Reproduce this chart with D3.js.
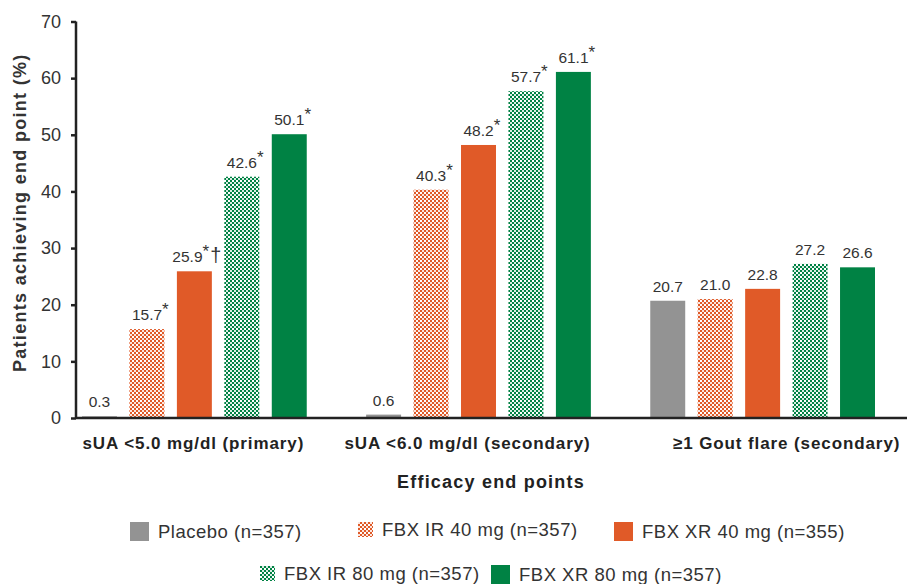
<!DOCTYPE html>
<html>
<head>
<meta charset="utf-8">
<script src="https://cdn.jsdelivr.net/npm/d3@7"></script>
<style>
  body { margin: 0; background: #fff; }
  svg { display: block; font-family: "Liberation Sans", Arial, Helvetica, sans-serif; }
</style>
</head>
<body>
<div id="chart"></div>
<script>
// data
const groups = ['sUA <5.0 mg/dl (primary)', 'sUA <6.0 mg/dl (secondary)', '\u22651 Gout flare (secondary)'];
const series = ['Placebo (n=357)', 'FBX IR 40 mg (n=357)', 'FBX XR 40 mg (n=355)', 'FBX IR 80 mg (n=357)', 'FBX XR 80 mg (n=357)'];
const placebo = [0.3, 0.6, 20.7];
const irLow = [15.7, 40.3, 21.0];
const xrLow = [25.9, 48.2, 22.8];
const irHigh = [42.6, 57.7, 27.2];
const xrHigh = [50.1, 61.1, 26.6];
const marks = [['', '', ''], ['*', '*', ''], ['*\u2020', '*', ''], ['*', '*', ''], ['*', '*', '']];
const yTicks = [0, 10, 20, 30, 40, 50, 60, 70];

const W = 907, H = 584;
const values = [placebo, irLow, xrLow, irHigh, xrHigh];
const fills = ['#939393', 'url(#patOrange)', '#e05a28', 'url(#patGreen)', '#008244'];

const svg = d3.select('#chart').append('svg')
    .attr('width', W).attr('height', H);

// checker patterns for the IR doses
const defs = svg.append('defs');
[['patOrange', '#e05a28'], ['patGreen', '#008244']].forEach(([id, c]) => {
    const p = defs.append('pattern').attr('id', id)
        .attr('patternUnits', 'userSpaceOnUse').attr('width', 4).attr('height', 4);
    p.append('rect').attr('width', 4).attr('height', 4).attr('fill', c);
    p.append('rect').attr('x', 0).attr('y', 0).attr('width', 2).attr('height', 2).attr('fill', '#fff');
    p.append('rect').attr('x', 2).attr('y', 2).attr('width', 2).attr('height', 2).attr('fill', '#fff').attr('opacity', 0.85);
});

const y = d3.scaleLinear().domain([0, 70]).range([418, 21.5]);
const x0 = d3.scaleBand().domain(d3.range(groups.length)).range([82, 875]).paddingInner(0.209);
const x1 = d3.scaleBand().domain(d3.range(series.length)).range([0, x0.bandwidth()]).paddingInner(0.263);

// y axis
const yAxis = svg.append('g').attr('transform', 'translate(76,0)')
    .call(d3.axisLeft(y).tickValues(yTicks).tickSize(5).tickPadding(10));
yAxis.select('.domain').attr('stroke', '#222').attr('stroke-width', 2.5).attr('d', `M0,${y(70)}V${y(0)}`);
yAxis.selectAll('.tick line').attr('stroke', '#222').attr('stroke-width', 2.5);
yAxis.selectAll('.tick text').attr('fill', '#333').attr('font-size', '18px').attr('font-family', 'Liberation Sans, Arial, sans-serif');

svg.append('text')
    .attr('transform', `translate(26,${(y(0) + y(70)) / 2 - 7}) rotate(-90)`)
    .attr('text-anchor', 'middle')
    .attr('fill', '#333').attr('font-size', '18px').attr('font-weight', 'bold')
    .attr('letter-spacing', '1.3px')
    .text('Patients achieving end point (%)');

// bars
series.forEach((s, si) => {
    groups.forEach((g, gi) => {
        const v = values[si][gi];
        svg.append('rect')
            .attr('x', x0(gi) + x1(si)).attr('y', y(v))
            .attr('width', x1.bandwidth()).attr('height', y(0) - y(v))
            .attr('fill', fills[si]);
    });
});

// value labels (on top of bars)
series.forEach((s, si) => {
    groups.forEach((g, gi) => {
        const v = values[si][gi];
        const cx = x0(gi) + x1(si) + x1.bandwidth() / 2;
        const t = svg.append('text')
            .attr('x', cx).attr('y', y(v) - 9)
            .attr('text-anchor', 'middle')
            .attr('fill', '#333').attr('font-size', '15.5px');
        t.append('tspan').text(v.toFixed(1));
        const m = marks[si][gi];
        if (m) {
            t.attr('text-anchor', 'start').attr('x', cx - (m.length > 1 ? 22 : 15));
            t.append('tspan').attr('dy', -5).attr('font-size', '17px').text('*');
            if (m.length > 1) t.append('tspan').attr('dy', 5).attr('dx', 1).attr('font-size', '20px').text('\u2020');
        }
    });
});

// x baseline
svg.append('line')
    .attr('x1', 76).attr('x2', W).attr('y1', y(0)).attr('y2', y(0))
    .attr('stroke', '#222').attr('stroke-width', 2.5);

// category labels
const labelShift = [-1, -11, 24];
groups.forEach((g, gi) => {
    svg.append('text')
        .attr('x', x0(gi) + x0.bandwidth() / 2 + labelShift[gi]).attr('y', 449)
        .attr('text-anchor', 'middle')
        .attr('fill', '#222').attr('font-size', '17px').attr('font-weight', 'bold')
        .attr('letter-spacing', '0.9px')
        .text(g);
});

svg.append('text')
    .attr('x', 491).attr('y', 488)
    .attr('text-anchor', 'middle')
    .attr('fill', '#222').attr('font-size', '18px').attr('font-weight', 'bold')
    .attr('letter-spacing', '1.2px')
    .text('Efficacy end points');

// legend
const legendPos = [
    { x: 130, y: 522, s: 19 },
    { x: 358, y: 522, s: 15 },
    { x: 614, y: 522, s: 19 },
    { x: 260, y: 566, s: 15 },
    { x: 491, y: 565, s: 19 }
];
series.forEach((s, si) => {
    const p = legendPos[si];
    svg.append('rect').attr('x', p.x).attr('y', p.y).attr('width', p.s).attr('height', p.s).attr('fill', fills[si]);
    svg.append('text')
        .attr('x', p.x + p.s + 9).attr('y', p.y + p.s / 2 + 6.5)
        .attr('fill', '#333').attr('font-size', '18.5px')
        .attr('letter-spacing', '0.5px')
        .text(s);
});
</script>
</body>
</html>
